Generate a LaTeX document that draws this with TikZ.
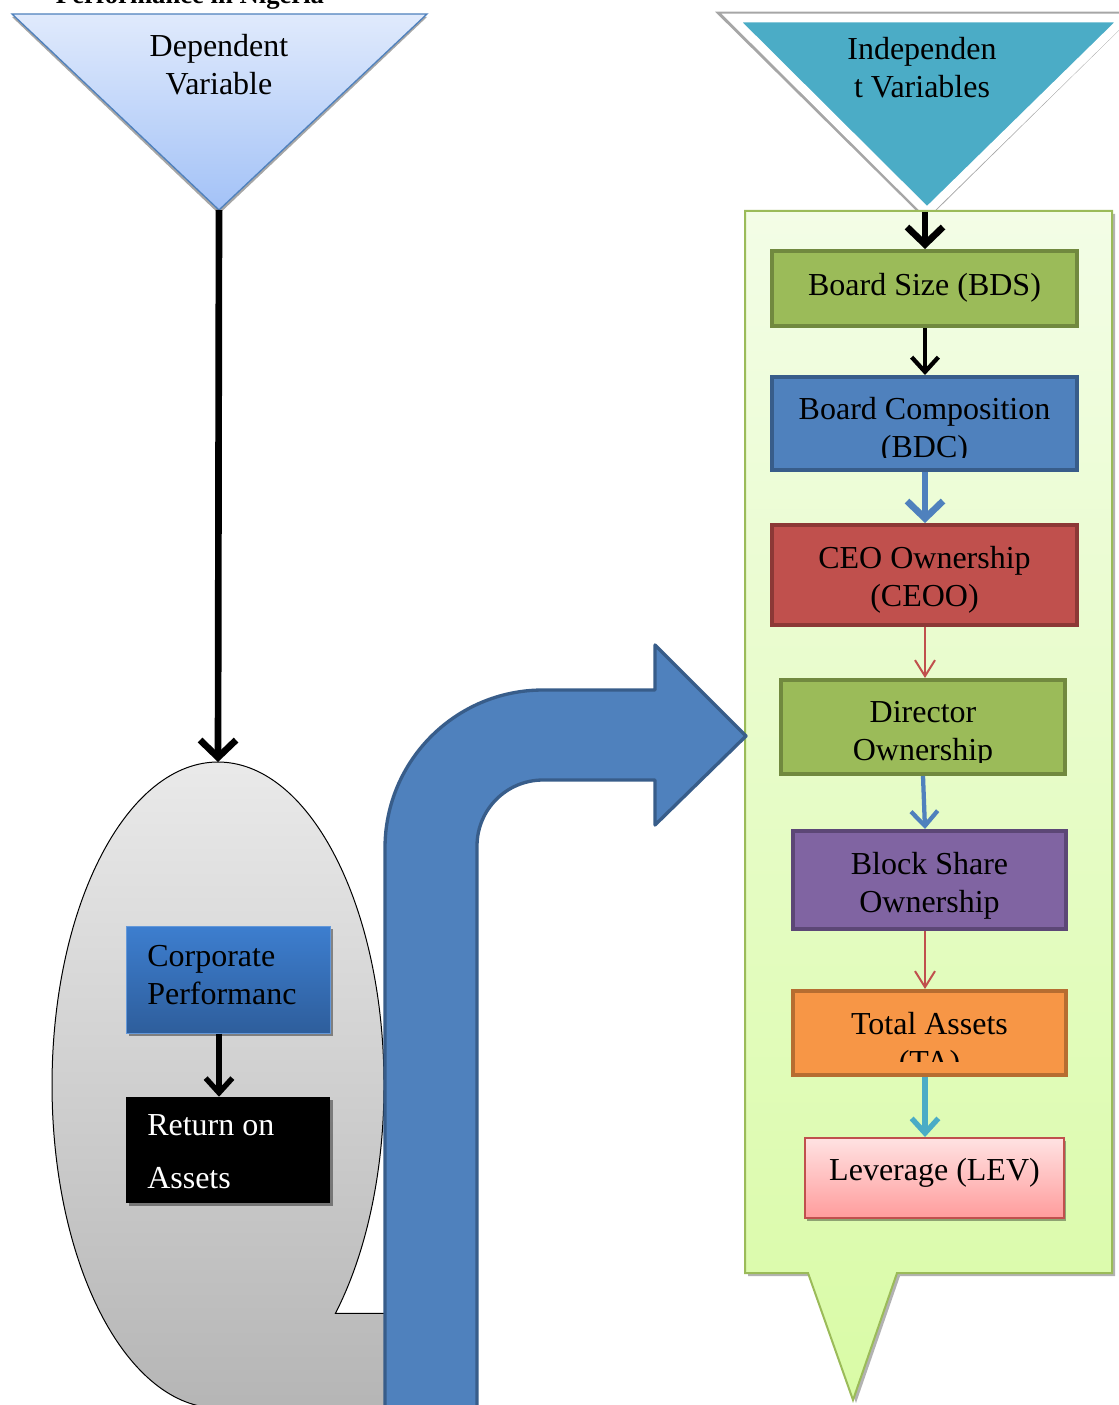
\documentclass[tikz,border=0pt]{standalone}
\usepackage{fontspec}
\setmainfont{Liberation Serif}
\usetikzlibrary{arrows.meta,shadows}
\definecolor{ogreen}{HTML}{9BBB59}
\definecolor{ogreenD}{HTML}{71893F}
\definecolor{oblue}{HTML}{4F81BD}
\definecolor{oblueD}{HTML}{385D8A}
\definecolor{ored}{HTML}{C0504D}
\definecolor{oredD}{HTML}{8C3836}
\definecolor{opurple}{HTML}{8064A2}
\definecolor{opurpleD}{HTML}{5C4776}
\definecolor{oorange}{HTML}{F79646}
\definecolor{oorangeD}{HTML}{B66D31}
\definecolor{oteal}{HTML}{4BACC6}
\definecolor{tritop}{HTML}{E0EAFC}
\definecolor{tribot}{HTML}{A3C2F7}
\definecolor{calltop}{HTML}{F3FDE6}
\definecolor{callbot}{HTML}{D9FBA6}
\definecolor{elltop}{HTML}{ECECEC}
\definecolor{ellbot}{HTML}{B4B4B4}
\definecolor{cptop}{HTML}{3D7ECF}
\definecolor{cpbot}{HTML}{2E5E9C}
\definecolor{levtop}{HTML}{FFE2E2}
\definecolor{levbot}{HTML}{FF9C9C}
\begin{document}
\begin{tikzpicture}[x=0.75pt,y=-0.75pt,
  txt/.style={font=\fontsize{24}{28.5}\selectfont, inner sep=0pt, align=center},
  vbox/.style={draw, line width=3pt, inner sep=0pt,
    drop shadow={shadow xshift=1.5pt,shadow yshift=-1.5pt,opacity=0.35,fill=black}},
  bigarr/.style={line width=5pt, -{Straight Barb[length=13pt,width=27pt]}},
  midarr/.style={line width=3.2pt, -{Straight Barb[length=11pt,width=20pt]}},
  thinarr/.style={line width=1.5pt, -{Straight Barb[length=12pt,width=15pt]}}
]
\useasboundingbox (0,0) rectangle (1119,1405);

% title (cut at top)
\node[anchor=base, inner sep=0pt, font=\fontsize{20}{24}\selectfont\bfseries] (title) at (190,4) {Performance in Nigeria};

% dependent triangle
\fill[gray!70] (12,17) -- (427,17) -- (219,214) -- cycle;
\path[draw=oblue, line width=1pt, top color=tritop, bottom color=tribot] (12,14) -- (427,14) -- (219,210) -- cycle;
\coordinate (dapex) at (219,210);
\node[txt] (deptext) at (219,65) {Dependent\\Variable};

% independent triangle
\draw[gray!70, line width=8pt] (728,17) -- (1125,17) -- (926,213) -- cycle;
\path[fill=oteal, draw=white, line width=6.5pt] (732,18) -- (1125,18) -- (927,212) -- cycle;
\coordinate (iapex) at (925,212);
\node[txt] (indtext) at (922,67.5) {Independen\\t Variables};

% ellipse callout (grey)
\path[draw=black, line width=0.75pt, top color=elltop, bottom color=ellbot]
  (335.4,1313.4) arc[start angle=45, end angle=-270, x radius=166, y radius=323]
  -- (430,1425) -- (430,1313.4) -- cycle;
\coordinate (etop) at (218,762);

% green callout
\path[fill=black, opacity=0.3] (748,214) -- (1115,214) -- (1115,1276) -- (900,1276) -- (856,1403) -- (811,1276) -- (748,1276) -- cycle;
\path[draw=ogreen, line width=1.5pt, top color=calltop, bottom color=callbot]
  (745,211) -- (1112,211) -- (1112,1273) -- (897,1273) -- (853,1400) -- (808,1273) -- (745,1273) -- cycle;

% bent blue arrow
\path[fill=oblue, draw=oblueD, line width=2.5pt, line join=round]
  (385,1425) -- (385,848) arc[start angle=180, end angle=270, radius=158]
  -- (655,690) -- (655,645) -- (746,736) -- (655,825) -- (655,780) -- (543,780)
  arc[start angle=270, end angle=180, radius=66] -- (477,1425) -- cycle;

% corporate performance and ROA
\node[draw=cptop!80!white, line width=0.75pt, top color=cptop, bottom color=cpbot, inner sep=0pt,
  minimum width=153pt, minimum height=80.25pt,
  drop shadow={shadow xshift=2pt,shadow yshift=-2pt,opacity=0.4,fill=black}] (cp) at (228,979.5) {};
\node[txt, anchor=west, align=left] (cptext) at (147,975) {Corporate\\Performanc};
\node[fill=black, inner sep=0pt, minimum width=153pt, minimum height=79.5pt,
  drop shadow={shadow xshift=2pt,shadow yshift=-2pt,opacity=0.4,fill=black}] (roa) at (228,1150) {};
\node[txt, anchor=west, align=left, text=white, font=\fontsize{24}{39.75}\selectfont] (roatext) at (147,1152) {Return on\\Assets};

% variable boxes
\node[vbox, fill=ogreen, draw=ogreenD, minimum width=228.75pt, minimum height=56.25pt] (bds) at (924.5,288.5) {};
\node[txt] (bdstext) at (924.5,287.5) {Board Size (BDS)};

\node[vbox, fill=oblue, draw=oblueD, minimum width=228.75pt, minimum height=69.75pt] (bdc) at (924.5,423.5) {};
\begin{scope}
\clip (772,380) rectangle (1077,457);
\node[txt] (bdctext) at (924.5,431) {Board Composition\\(BDC)};
\end{scope}

\node[vbox, fill=ored, draw=oredD, minimum width=228.75pt, minimum height=75pt] (ceo) at (924.5,575) {};
\node[txt] (ceotext) at (924.5,579.5) {CEO Ownership\\(CEOO)};

\node[vbox, fill=ogreen, draw=ogreenD, minimum width=213pt, minimum height=70.5pt] (dir) at (923,727) {};
\begin{scope}
\clip (781,683) rectangle (1065,762);
\node[txt] (dirtext) at (923,734.5) {Director\\Ownership};
\end{scope}

\node[vbox, fill=opurple, draw=opurpleD, minimum width=204.75pt, minimum height=73.5pt] (bso) at (929.5,880) {};
\node[txt] (bsotext) at (929.5,885.5) {Block Share\\Ownership};

\node[vbox, fill=oorange, draw=oorangeD, minimum width=204.75pt, minimum height=63pt] (ta) at (929.5,1033) {};
\begin{scope}
\clip (793,994) rectangle (1066,1061);
\node[txt] (tatext) at (929.5,1046) {Total Assets\\(TA)};
\end{scope}

\node[draw=ored, line width=1.5pt, top color=levtop, bottom color=levbot, inner sep=0pt,
  minimum width=194.25pt, minimum height=60pt,
  drop shadow={shadow xshift=1.5pt,shadow yshift=-2pt,opacity=0.35,fill=black}] (lev) at (934.5,1178) {};
\node[txt] (levtext) at (934.5,1172.5) {Leverage (LEV)};

% connectors
\draw[bigarr] (dapex) -- (etop);
\draw[bigarr] (iapex) -- (bds.north -| iapex);
\draw[midarr] (bds.south -| iapex) -- (bdc.north -| iapex);
\draw[bigarr, oblue] (bdc.south -| iapex) -- (ceo.north -| iapex);
\draw[thinarr, ored] (ceo.south -| iapex) -- (dir.north -| iapex);
\draw[midarr, oblue] (dir.south) -- (bso.north -| iapex);
\draw[thinarr, ored] (bso.south -| iapex) -- (ta.north -| iapex);
\draw[midarr, oteal, line width=4pt] (ta.south -| iapex) -- (lev.north -| iapex);
\draw[midarr, line width=4pt] (cp.south -| dapex) -- (roa.north -| dapex);
\end{tikzpicture}
\end{document}
